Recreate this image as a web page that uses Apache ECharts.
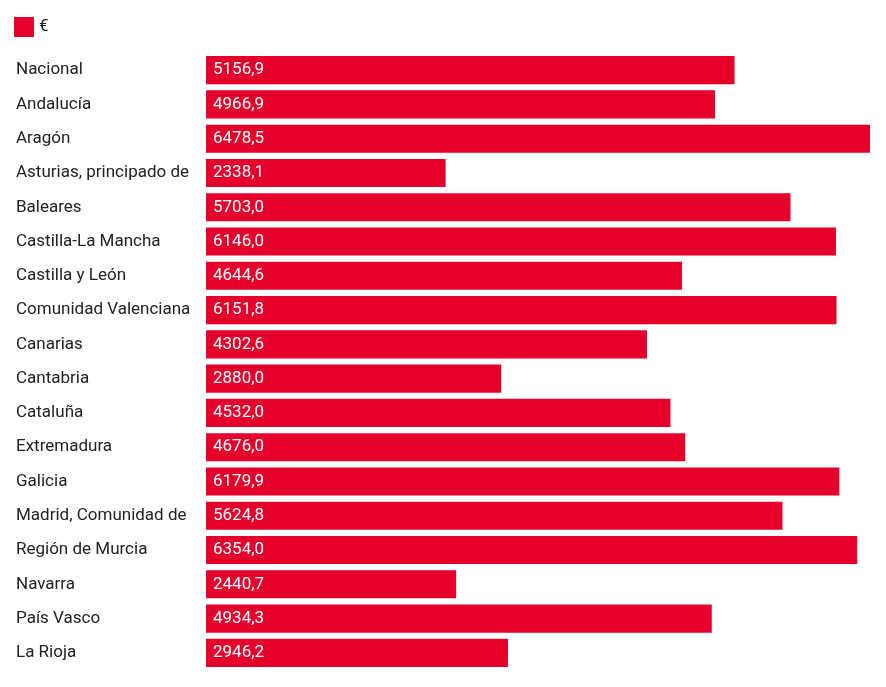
<!DOCTYPE html>
<html>
<head>
<meta charset="utf-8">
<script src="https://cdn.jsdelivr.net/npm/echarts@6/dist/echarts.min.js"></script>
<style>
  html, body { margin: 0; padding: 0; background: #fff; }
  #chart { width: 886px; height: 687px; }
</style>
</head>
<body>
<div id="chart"></div>
<script>
const regions = [
  'Nacional', 'Andalucía', 'Aragón', 'Asturias, principado de', 'Baleares',
  'Castilla-La Mancha', 'Castilla y León', 'Comunidad Valenciana', 'Canarias',
  'Cantabria', 'Cataluña', 'Extremadura', 'Galicia', 'Madrid, Comunidad de',
  'Región de Murcia', 'Navarra', 'País Vasco', 'La Rioja'
]
const euros = [
  5156.9, 4966.9, 6478.5, 2338.1, 5703.0,
  6146.0, 4644.6, 6151.8, 4302.6,
  2880.0, 4532.0, 4676.0, 6179.9, 5624.8,
  6354.0, 2440.7, 4934.3, 2946.2
]

const chart = echarts.init(document.getElementById('chart'))
const option = {
  animation: false,
  textStyle: { fontFamily: 'Roboto' },
  legend: {
    left: 14,
    top: 17,
    padding: 0,
    icon: 'rect',
    itemWidth: 20,
    itemHeight: 20,
    itemGap: 10,
    textStyle: { fontSize: 17, color: '#222' },
    data: ['€']
  },
  grid: { left: 206, right: 16, top: 53, bottom: 17 },
  xAxis: {
    type: 'value',
    min: 0,
    max: 'dataMax',
    show: false
  },
  yAxis: {
    type: 'category',
    inverse: true,
    data: regions,
    axisLine: { show: false },
    axisTick: { show: false },
    axisLabel: {
      align: 'left',
      margin: 190,
      fontSize: 17,
      color: '#222',
      padding: [3, 0, 0, 0]
    }
  },
  series: [
    {
      name: '€',
      type: 'bar',
      data: euros,
      barCategoryGap: '18%',
      itemStyle: { color: '#e4002b' },
      label: {
        show: true,
        position: 'insideLeft',
        distance: 7,
        fontSize: 17,
        color: '#fff',
        padding: [3, 0, 0, 0],
        formatter: function (p) {
          return p.value.toFixed(1).replace('.', ',')
        }
      }
    }
  ]
}
chart.setOption(option)
</script>
</body>
</html>
